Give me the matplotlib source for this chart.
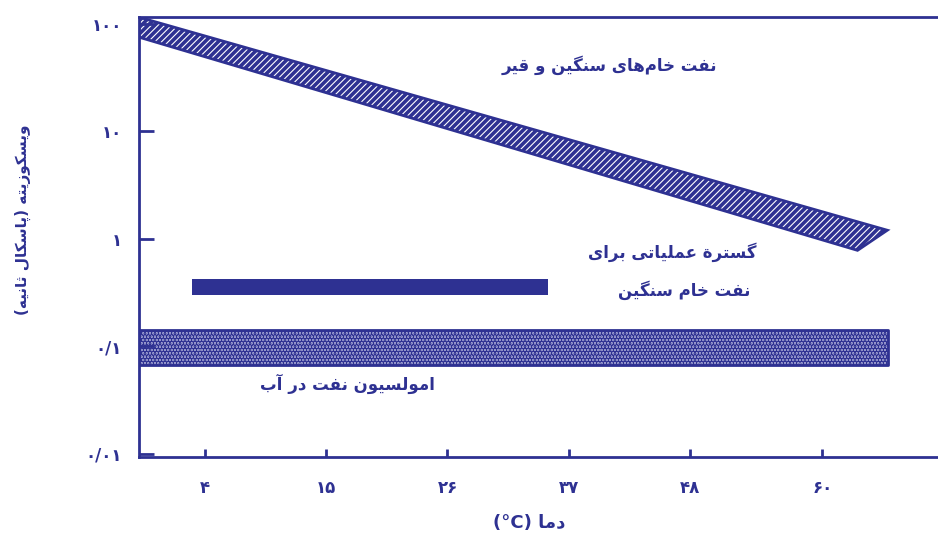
import matplotlib
matplotlib.use("Agg")
import matplotlib.pyplot as plt
from matplotlib.ticker import NullLocator

# --- data ---
temp_ticks = [4, 15, 26, 37, 48, 60]
temp_labels = ['۴', '۱۵', '۲۶', '۳۷', '۴۸', '۶۰']
visc_ticks = [0.01, 0.1, 1, 10, 100]
visc_labels = ['۰/۰۱', '۰/۱', '۱', '۱۰', '۱۰۰']

# heavy crude & bitumen band (corners: temperature, viscosity)
bitumen_temp = [-2, 65.9, 63.2, -2]
bitumen_visc = [115, 1.2, 0.78, 75]

# operating range for heavy crude
op_temp = [2.8, 35.1]
op_visc = [0.30, 0.42]

# oil-in-water emulsion
emul_temp = [-2, 66.0]
emul_visc = [0.0667, 0.141]

navy = '#2e3192'

# matplotlib has no arabic shaping -> map letters to presentation forms by hand
FORMS = {
    'ا': ('\uFE8D', '\uFE8E', None, None),
    'آ': ('\uFE81', '\uFE82', None, None),
    'ب': ('\uFE8F', '\uFE90', '\uFE91', '\uFE92'),
    'پ': ('\uFB56', '\uFB57', '\uFB58', '\uFB59'),
    'ت': ('\uFE95', '\uFE96', '\uFE97', '\uFE98'),
    'ث': ('\uFE99', '\uFE9A', '\uFE9B', '\uFE9C'),
    'خ': ('\uFEA5', '\uFEA6', '\uFEA7', '\uFEA8'),
    'د': ('\uFEA9', '\uFEAA', None, None),
    'ر': ('\uFEAD', '\uFEAE', None, None),
    'ز': ('\uFEAF', '\uFEB0', None, None),
    'س': ('\uFEB1', '\uFEB2', '\uFEB3', '\uFEB4'),
    'ع': ('\uFEC9', '\uFECA', '\uFECB', '\uFECC'),
    'ف': ('\uFED1', '\uFED2', '\uFED3', '\uFED4'),
    'ق': ('\uFED5', '\uFED6', '\uFED7', '\uFED8'),
    'ک': ('\uFB8E', '\uFB8F', '\uFB90', '\uFB91'),
    'گ': ('\uFB92', '\uFB93', '\uFB94', '\uFB95'),
    'ل': ('\uFEDD', '\uFEDE', '\uFEDF', '\uFEE0'),
    'م': ('\uFEE1', '\uFEE2', '\uFEE3', '\uFEE4'),
    'ن': ('\uFEE5', '\uFEE6', '\uFEE7', '\uFEE8'),
    'و': ('\uFEED', '\uFEEE', None, None),
    'ه': ('\uFEE9', '\uFEEA', '\uFEEB', '\uFEEC'),
    'ة': ('\uFE93', '\uFE94', None, None),
    'ی': ('\uFBFC', '\uFBFD', '\uFBFE', '\uFBFF'),
}
MIRROR = {'(': ')', ')': '('}


def fa(text):
    out = []
    for i, ch in enumerate(text):
        if ch not in FORMS:
            if ch != '\u200c':
                out.append(MIRROR.get(ch, ch))
            continue
        prev = text[i - 1] if i > 0 else ''
        nxt = text[i + 1] if i + 1 < len(text) else ''
        join_prev = prev in FORMS and FORMS[prev][2] is not None
        join_next = FORMS[ch][2] is not None and nxt in FORMS
        iso, fin, ini, med = FORMS[ch]
        if join_prev and join_next:
            out.append(med)
        elif join_prev:
            out.append(fin)
        elif join_next:
            out.append(ini)
        else:
            out.append(iso)
    return ''.join(out[::-1])


plt.rcParams['font.family'] = ['DejaVu Sans']
plt.rcParams['hatch.linewidth'] = 2.6
plt.rcParams['hatch.color'] = navy

fig = plt.figure(figsize=(9.38, 5.36), dpi=100)
ax = fig.add_axes([0.148, 0.147, 0.852, 0.821])

ax.fill(bitumen_temp, bitumen_visc, facecolor='white', edgecolor=navy,
        hatch='/////', linewidth=2)
ax.fill_between(op_temp, op_visc[0], op_visc[1], color=navy, linewidth=0)
ax.fill_between(emul_temp, emul_visc[0], emul_visc[1], facecolor='#9fa1d2',
                edgecolor=navy, hatch='.....', linewidth=2)

ax.set_yscale('log')
ax.set_xlim(-2, 70.5)
ax.set_ylim(0.0093, 115)
ax.yaxis.set_minor_locator(NullLocator())
ax.set_xticks(temp_ticks)
ax.set_xticklabels(temp_labels)
ax.set_yticks(visc_ticks)
ax.set_yticklabels(visc_labels)
ax.tick_params(axis='y', direction='in', length=11, width=2, color=navy,
               labelcolor=navy, labelsize=12, pad=12)
ax.tick_params(axis='x', direction='in', length=6, width=2, color=navy,
               labelcolor=navy, labelsize=12, pad=16)
for lab in ax.get_xticklabels() + ax.get_yticklabels():
    lab.set_fontweight('bold')

ax.spines['right'].set_visible(False)
for s in ['left', 'bottom', 'top']:
    ax.spines[s].set_color(navy)
    ax.spines[s].set_linewidth(2)

kw = dict(color=navy, fontsize=12, fontweight='bold', ha='center', va='center')
fig.text(0.650, 0.879, fa('نفت خام\u200cهای سنگین و قیر'), **kw)
fig.text(0.717, 0.530, fa('گسترة عملیاتی برای'), **kw)
fig.text(0.729, 0.459, fa('نفت خام سنگین'), **kw)
fig.text(0.370, 0.284, fa('امولسیون نفت در آب'), **kw)
fig.text(0.564, 0.024, '(°C) ' + fa('دما'), **{**kw, 'fontsize': 13})
fig.text(0.024, 0.590, fa('ویسکوزیته (پاسکال ثانیه)'), rotation=90,
         **{**kw, 'fontsize': 11})

fig.savefig('out.png', dpi=100)
